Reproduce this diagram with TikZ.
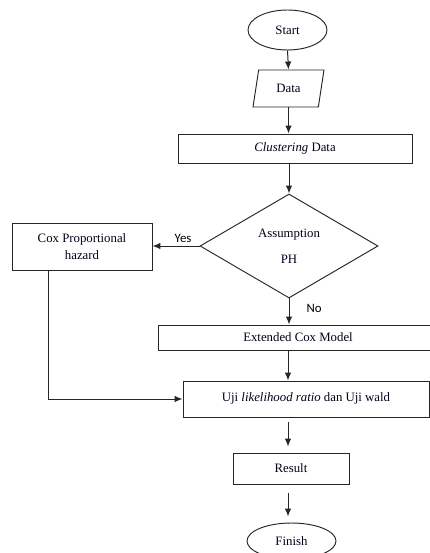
\documentclass[tikz,border=0pt]{standalone}
\usepackage{fontspec}
\setmainfont{Liberation Serif}
\newfontfamily\labfont{Carlito}
\usetikzlibrary{shapes.geometric,arrows.meta,calc}
\begin{document}
\begin{tikzpicture}[x=1pt,y=-1pt,
  every node/.style={font=\fontsize{12.8}{15}\selectfont, inner sep=0pt, text=black!90!blue},
  box/.style={draw=black!85, rectangle, line width=0.95pt},
  term/.style={draw=black!85, ellipse, line width=0.95pt},
  conn/.style={draw=black!85, line width=1pt, -{Latex[length=8pt,width=6.5pt]}},
  lab/.style={font=\labfont\fontsize{12.8}{15}\selectfont, text=black}]
\useasboundingbox (0,0) rectangle (430,553);
\node[term, minimum width=79pt, minimum height=40pt] (start) at (287.5,30) {Start};
\node[draw=black!85, trapezium, trapezium left angle=75, trapezium right angle=105, trapezium stretches=true,
      minimum width=71pt, minimum height=37pt, line width=0.95pt] (data) at (288.5,88.5) {Data};
\node[box, minimum width=234pt, minimum height=29pt] (clust) at (295,148.5) {\textit{Clustering} Data};
\node[draw=black!85, diamond, minimum width=178pt, minimum height=104pt, line width=0.95pt, align=center] (dia) at (289,246) {Assumption\\[11pt]PH};
\node[box, minimum width=140pt, minimum height=47pt, align=center, font=\fontsize{12.8}{17}\selectfont] (cox) at (82,246.5) {Cox Proportional\\hazard};
\node[box, minimum width=280pt, minimum height=25pt] (ext) at (298,337.5) {Extended Cox Model};
\node[box, minimum width=246pt, minimum height=36pt] (uji) at (306,399) {\raisebox{4pt}{Uji \textit{likelihood ratio} dan Uji wald}};
\node[box, minimum width=116pt, minimum height=31pt] (res) at (291,468.5) {Result};
\node[term, minimum width=89pt, minimum height=36pt] (fin) at (291.5,541) {Finish};
\coordinate (cl) at (48,270);
\draw[conn] (start.south) -- (data.north);
\draw[conn] (data.south) -- (data.south |- clust.north);
\draw[conn] (dia.north |- clust.south) -- (dia.north);
\draw[conn] (dia.west) -- node[lab, above, pos=0.35, yshift=3pt] {Yes} (dia.west -| cox.east);
\draw[conn] (dia.south) -- node[lab, right, pos=0.4, xshift=17pt] {No} (dia.south |- ext.north);
\draw[conn] (288,0 |- ext.south) -- (288,0 |- uji.north);
\draw[conn] (cl) |- (uji.west);
\draw[conn, shorten <=5pt, shorten >=6pt] (288,0 |- uji.south) -- (288,0 |- res.north);
\draw[conn, shorten <=9pt, shorten >=6pt] (288,0 |- res.south) -- (288,0 |- fin.north);
\end{tikzpicture}
\end{document}
